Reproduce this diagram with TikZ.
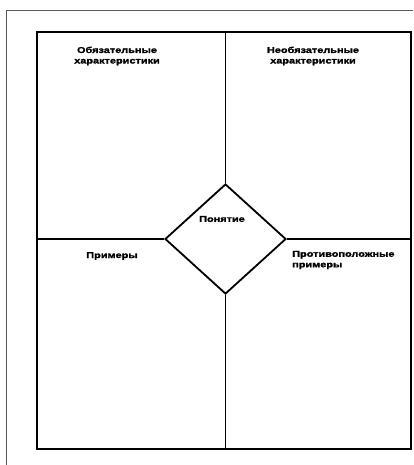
\documentclass[tikz,border=0pt]{standalone}
\usepackage{fontspec}
\newfontfamily\cardfont[FakeStretch=1.28, BoldFeatures={FakeBold=1.6}]{Liberation Sans}
\usetikzlibrary{shapes.geometric, positioning, calc}

\begin{document}
\begin{tikzpicture}[x=0.035cm, y=-0.035cm,
        lbl/.style={font=\cardfont\bfseries\fontsize{8.5}{10.5}\selectfont, inner sep=0pt, align=center},
        divider/.style={line width=1.4pt}]
        \useasboundingbox (0,0) rectangle (413,465);
        % Page border (scan)
        \draw[gray!70!black, line width=0.8pt] (6,465) -- (6,10) -- (413,10);
        
        % Frame and centre
        \node[draw, line width=2pt, minimum width=374*0.035cm, minimum height=417*0.035cm, inner sep=0pt] (frame) at (224,240.5) {};
        \node[diamond, draw, line width=1.8pt, fill=white, minimum width=121*0.035cm, minimum height=110*0.035cm, inner sep=0pt] (concept) at (225.5,239) {};
        
        % Dividers
        \draw[divider] (frame.north -| concept.north) -- (concept.north);
        \draw[divider] (concept.south) -- (frame.south -| concept.south);
        \draw[divider] (frame.west |- concept.west) -- (concept.west);
        \draw[divider] (concept.east) -- (frame.east |- concept.east);
        
        % Labels
        \node[lbl] (must) at (117,56) {Обязательные\\характеристики};
        \node[lbl] (may) at (313,56) {Необязательные\\характеристики};
        \node[lbl] (conceptlbl) at (222,219) {Понятие};
        \node[lbl] (examples) at (112,256) {Примеры};
        \node[lbl, anchor=west, align=left] (counter) at (292,260) {Противоположные\\примеры};
    \end{tikzpicture}
\end{document}
